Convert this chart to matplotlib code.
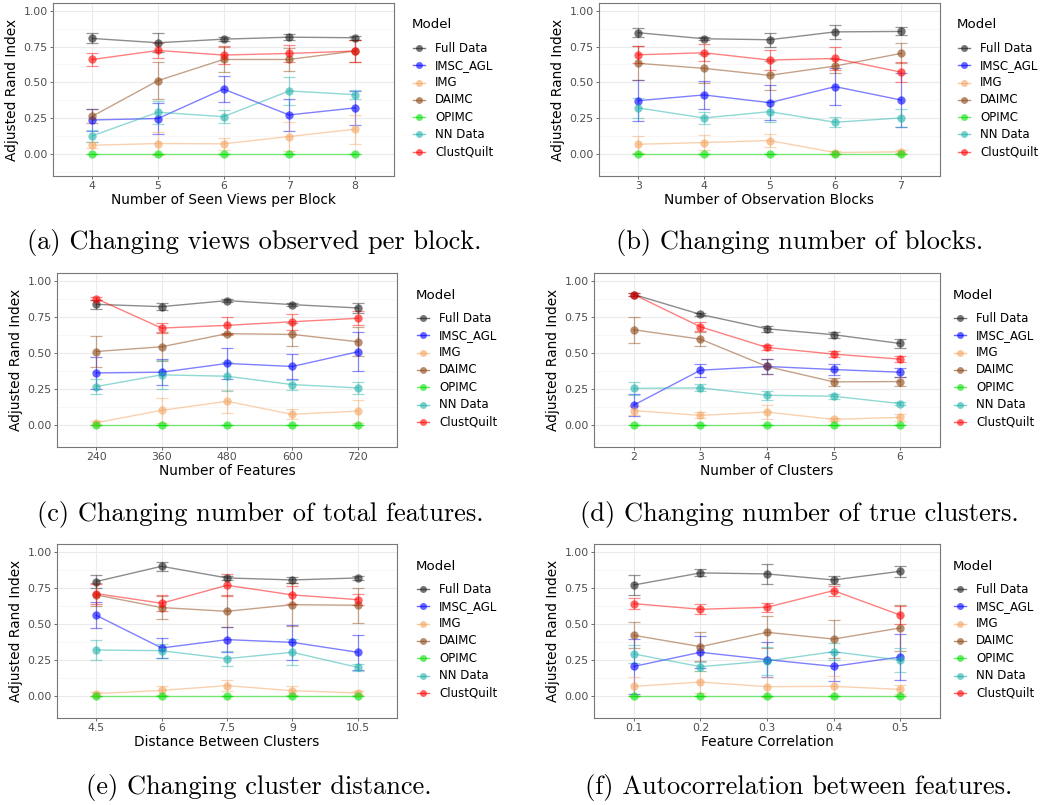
import matplotlib
matplotlib.use("Agg")
import matplotlib.pyplot as plt
from matplotlib.lines import Line2D
import numpy as np

W, H = 1044, 805

models = ["Full Data", "IMSC_AGL", "IMG", "DAIMC", "OPIMC", "NN Data", "ClustQuilt"]
colors = {"Full Data": "#1a1a1a", "IMSC_AGL": "#0000ff", "IMG": "#f4a460",
          "DAIMC": "#8b4513", "OPIMC": "#00e000", "NN Data": "#20b2aa",
          "ClustQuilt": "#ff0000"}

# ---- (a) views per block
a_x = ["4", "5", "6", "7", "8"]
a_full = [0.807, 0.777, 0.802, 0.816, 0.812]
a_full_e = [0.035, 0.065, 0.015, 0.02, 0.015]
a_imsc = [0.237, 0.247, 0.453, 0.272, 0.321]
a_imsc_e = [0.08, 0.11, 0.09, 0.11, 0.12]
a_img = [0.060, 0.072, 0.070, 0.121, 0.172]
a_img_e = [0.02, 0.08, 0.04, 0.10, 0.10]
a_daimc = [0.263, 0.512, 0.660, 0.660, 0.719]
a_daimc_e = [0.05, 0.13, 0.09, 0.08, 0.08]
a_opimc = [0.0, 0.0, 0.0, 0.0, 0.0]
a_nn = [0.126, 0.291, 0.260, 0.440, 0.414]
a_nn_e = [0.04, 0.08, 0.045, 0.10, 0.03]
a_cq = [0.660, 0.723, 0.691, 0.702, 0.719]
a_cq_e = [0.045, 0.05, 0.06, 0.06, 0.08]

# ---- (b) number of blocks
b_x = ["3", "4", "5", "6", "7"]
b_full = [0.847, 0.805, 0.798, 0.853, 0.856]
b_full_e = [0.03, 0.01, 0.05, 0.05, 0.028]
b_imsc = [0.372, 0.412, 0.358, 0.470, 0.377]
b_imsc_e = [0.145, 0.10, 0.12, 0.13, 0.19]
b_img = [0.067, 0.079, 0.093, 0.009, 0.014]
b_img_e = [0.06, 0.05, 0.046, 0.01, 0.01]
b_daimc = [0.633, 0.598, 0.549, 0.614, 0.702]
b_daimc_e = [0.12, 0.10, 0.10, 0.05, 0.07]
b_opimc = [0.0, 0.0, 0.0, 0.0, 0.0]
b_nn = [0.321, 0.251, 0.295, 0.221, 0.251]
b_nn_e = [0.07, 0.04, 0.07, 0.035, 0.06]
b_cq = [0.693, 0.707, 0.656, 0.667, 0.572]
b_cq_e = [0.06, 0.06, 0.07, 0.08, 0.07]

# ---- (c) number of features
c_x = ["240", "360", "480", "600", "720"]
c_full = [0.837, 0.821, 0.863, 0.835, 0.812]
c_full_e = [0.03, 0.025, 0.01, 0.01, 0.035]
c_imsc = [0.360, 0.365, 0.426, 0.405, 0.507]
c_imsc_e = [0.11, 0.09, 0.11, 0.085, 0.135]
c_img = [0.014, 0.100, 0.163, 0.072, 0.095]
c_img_e = [0.015, 0.085, 0.08, 0.035, 0.08]
c_daimc = [0.509, 0.542, 0.633, 0.628, 0.577]
c_daimc_e = [0.11, 0.10, 0.008, 0.08, 0.10]
c_opimc = [0.0, 0.0, 0.0, 0.0, 0.0]
c_nn = [0.265, 0.347, 0.337, 0.279, 0.256]
c_nn_e = [0.05, 0.10, 0.10, 0.035, 0.04]
c_cq = [0.877, 0.672, 0.691, 0.716, 0.740]
c_cq_e = [0.012, 0.035, 0.06, 0.055, 0.05]

# ---- (d) number of clusters
d_x = ["2", "3", "4", "5", "6"]
d_full = [0.905, 0.767, 0.667, 0.626, 0.565]
d_full_e = [0.008, 0.01, 0.02, 0.02, 0.03]
d_imsc = [0.137, 0.379, 0.405, 0.384, 0.365]
d_imsc_e = [0.075, 0.045, 0.055, 0.035, 0.03]
d_img = [0.098, 0.065, 0.088, 0.037, 0.051]
d_img_e = [0.03, 0.02, 0.05, 0.01, 0.025]
d_daimc = [0.660, 0.595, 0.405, 0.298, 0.300]
d_daimc_e = [0.09, 0.05, 0.055, 0.03, 0.03]
d_opimc = [0.0, 0.0, 0.0, 0.0, 0.0]
d_nn = [0.253, 0.256, 0.205, 0.198, 0.147]
d_nn_e = [0.045, 0.025, 0.03, 0.018, 0.012]
d_cq = [0.905, 0.681, 0.537, 0.491, 0.456]
d_cq_e = [0.01, 0.03, 0.02, 0.02, 0.02]

# ---- (e) cluster distance
e_x = ["4.5", "6", "7.5", "9", "10.5"]
e_full = [0.794, 0.900, 0.819, 0.805, 0.819]
e_full_e = [0.045, 0.03, 0.015, 0.02, 0.015]
e_imsc = [0.559, 0.332, 0.390, 0.371, 0.302]
e_imsc_e = [0.09, 0.07, 0.085, 0.12, 0.12]
e_img = [0.014, 0.037, 0.070, 0.035, 0.019]
e_img_e = [0.015, 0.03, 0.04, 0.03, 0.015]
e_daimc = [0.701, 0.613, 0.587, 0.633, 0.629]
e_daimc_e = [0.08, 0.08, 0.11, 0.15, 0.12]
e_opimc = [0.0, 0.0, 0.0, 0.0, 0.0]
e_nn = [0.318, 0.313, 0.258, 0.302, 0.197]
e_nn_e = [0.07, 0.05, 0.05, 0.09, 0.025]
e_cq = [0.710, 0.643, 0.768, 0.701, 0.668]
e_cq_e = [0.07, 0.055, 0.075, 0.06, 0.04]

# ---- (f) feature correlation
f_x = ["0.1", "0.2", "0.3", "0.4", "0.5"]
f_full = [0.770, 0.854, 0.847, 0.805, 0.865]
f_full_e = [0.07, 0.025, 0.07, 0.025, 0.04]
f_imsc = [0.204, 0.302, 0.251, 0.204, 0.269]
f_imsc_e = [0.19, 0.11, 0.12, 0.10, 0.16]
f_img = [0.065, 0.095, 0.063, 0.065, 0.044]
f_img_e = [0.065, 0.075, 0.07, 0.07, 0.03]
f_daimc = [0.420, 0.341, 0.441, 0.394, 0.471]
f_daimc_e = [0.09, 0.10, 0.11, 0.135, 0.16]
f_opimc = [0.0, 0.0, 0.0, 0.0, 0.0]
f_nn = [0.290, 0.202, 0.241, 0.306, 0.248]
f_nn_e = [0.065, 0.03, 0.10, 0.06, 0.085]
f_cq = [0.640, 0.601, 0.615, 0.731, 0.561]
f_cq_e = [0.04, 0.035, 0.03, 0.035, 0.065]

zeros = [0.0] * 5

panels = [
    dict(x=a_x, xlabel="Number of Seen Views per Block",
         caption="(a) Changing views observed per block.",
         series=[a_full, a_imsc, a_img, a_daimc, a_opimc, a_nn, a_cq],
         errs=[a_full_e, a_imsc_e, a_img_e, a_daimc_e, zeros, a_nn_e, a_cq_e],
         box=(53, 3, 394, 176), leg=(412, 3), cap=(254, 243)),
    dict(x=b_x, xlabel="Number of Observation Blocks",
         caption="(b) Changing number of blocks.",
         series=[b_full, b_imsc, b_img, b_daimc, b_opimc, b_nn, b_cq],
         errs=[b_full_e, b_imsc_e, b_img_e, b_daimc_e, zeros, b_nn_e, b_cq_e],
         box=(599, 3, 940, 176), leg=(957, 3), cap=(800, 243)),
    dict(x=c_x, xlabel="Number of Features",
         caption="(c) Changing number of total features.",
         series=[c_full, c_imsc, c_img, c_daimc, c_opimc, c_nn, c_cq],
         errs=[c_full_e, c_imsc_e, c_img_e, c_daimc_e, zeros, c_nn_e, c_cq_e],
         box=(57, 273, 397, 447), leg=(416, 273), cap=(260, 515)),
    dict(x=d_x, xlabel="Number of Clusters",
         caption="(d) Changing number of true clusters.",
         series=[d_full, d_imsc, d_img, d_daimc, d_opimc, d_nn, d_cq],
         errs=[d_full_e, d_imsc_e, d_img_e, d_daimc_e, zeros, d_nn_e, d_cq_e],
         box=(594, 273, 940, 447), leg=(953, 273), cap=(799, 515)),
    dict(x=e_x, xlabel="Distance Between Clusters",
         caption="(e) Changing cluster distance.",
         series=[e_full, e_imsc, e_img, e_daimc, e_opimc, e_nn, e_cq],
         errs=[e_full_e, e_imsc_e, e_img_e, e_daimc_e, zeros, e_nn_e, e_cq_e],
         box=(57, 544, 397, 718), leg=(416, 544), cap=(259, 787)),
    dict(x=f_x, xlabel="Feature Correlation",
         caption="(f) Autocorrelation between features.",
         series=[f_full, f_imsc, f_img, f_daimc, f_opimc, f_nn, f_cq],
         errs=[f_full_e, f_imsc_e, f_img_e, f_daimc_e, zeros, f_nn_e, f_cq_e],
         box=(594, 544, 940, 718), leg=(953, 544), cap=(799, 787)),
]

fig = plt.figure(figsize=(W / 100, H / 100), dpi=100)
fig.patch.set_facecolor("white")


def fx(px):
    return px / W


def fy(py):
    return 1 - py / H


for p in panels:
    l, t, r, b = p["box"]
    ax = fig.add_axes([fx(l), fy(b), fx(r) - fx(l), fy(t) - fy(b)])
    pos = np.arange(len(p["x"]))
    ax.set_xlim(-0.6, len(pos) - 0.4)
    ax.set_ylim(-0.155, 1.055)
    ax.set_yticks([0, 0.25, 0.5, 0.75, 1.0])
    ax.set_yticklabels(["0.00", "0.25", "0.50", "0.75", "1.00"])
    ax.set_yticks([-0.125, 0.125, 0.375, 0.625, 0.875], minor=True)
    ax.set_xticks(pos)
    ax.set_xticklabels(p["x"])
    ax.grid(True, which="major", color="#ebebeb", lw=0.8, zorder=0)
    ax.grid(True, which="minor", axis="y", color="#f4f4f4", lw=0.5, zorder=0)
    ax.tick_params(which="minor", length=0)
    ax.tick_params(which="major", length=2.2, width=0.6, color="#555555",
                   labelsize=7.8, labelcolor="#4d4d4d", pad=1.5)
    for s in ax.spines.values():
        s.set_color("#777777")
        s.set_linewidth(0.8)
    ax.set_axisbelow(True)
    for m, ys, es in zip(models, p["series"], p["errs"]):
        c = colors[m]
        ax.errorbar(pos, ys, yerr=es, fmt="none", ecolor=c, alpha=0.45,
                    elinewidth=0.9, capsize=4.6, capthick=0.9, zorder=2)
        ax.plot(pos, ys, color=c, lw=1.0, alpha=0.5, zorder=3)
        ax.plot(pos, ys, "o", color=c, ms=6, alpha=0.6, mec="none", zorder=4)
    ax.set_xlabel(p["xlabel"], fontsize=9.9, color="black", labelpad=1.0)
    ax.set_ylabel("Adjusted Rand Index", fontsize=9.9, color="black", labelpad=3)

    # legend (manual, ggplot style)
    lx, lt = p["leg"]
    fig.text(fx(lx), fy(lt + 22), "Model", fontsize=9.6, va="center", ha="left")
    for i, m in enumerate(models):
        yy = lt + 45 + i * 17.3
        c = colors[m]
        fig.add_artist(Line2D([fx(lx + 1), fx(lx + 13)], [fy(yy), fy(yy)],
                              transform=fig.transFigure, color=c, lw=1.0, alpha=0.6))
        fig.add_artist(Line2D([fx(lx + 7)], [fy(yy)], transform=fig.transFigure,
                              marker="o", ms=5, color=c, alpha=0.6, mec="none"))
        fig.text(fx(lx + 23), fy(yy), m, fontsize=8.5, va="center", ha="left")

    cx, cy = p["cap"]
    fig.text(fx(cx), fy(cy), p["caption"], fontsize=19, family="cmr10",
             ha="center", va="center")

fig.savefig("out.png", dpi=100, facecolor="white")
